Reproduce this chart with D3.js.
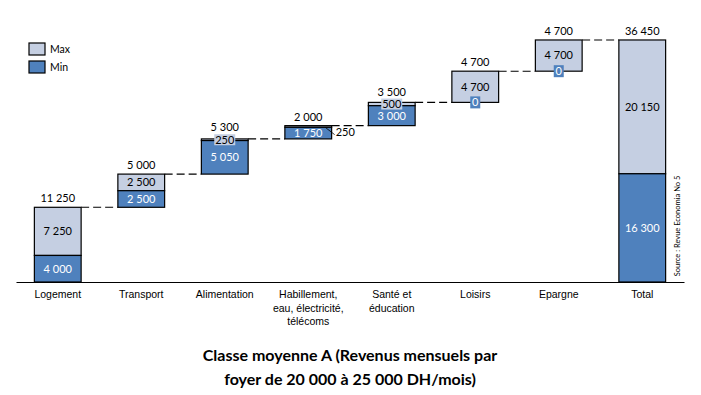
<!DOCTYPE html>
<html lang="fr">
<head>
<meta charset="UTF-8">
<title>Classe moyenne A</title>
<script src="https://d3js.org/d3.v7.min.js"></script>
<style>
    body{margin:0;background:#fff;}
    svg{font-family:Lato,"Open Sans",sans-serif;}
</style>
</head>
<body>
<svg id="chart" width="701" height="395"></svg>
<script>
    // données
    const categories = ['Logement','Transport','Alimentation','Habillement, eau, électricité, télécoms','Santé et éducation','Loisirs','Epargne','Total'];
    const catLines = [['Logement'],['Transport'],['Alimentation'],['Habillement,','eau, électricité,','télécoms'],['Santé et','éducation'],['Loisirs'],['Epargne'],['Total']];
    const minVals = [4000,2500,5050,1750,3000,0,0];
    const maxVals = [7250,2500,250,250,500,4700,4700];
    const seriesNames = ['Max','Min'];
    const titleLines = ['Classe moyenne A (Revenus mensuels par','foyer de 20 000 à 25 000 DH/mois)'];
    const sourceText = 'Source : Revue Economia No 5';

    const cMax = '#C5CFE2', cMin = '#4F81BD';
    const fmt = d3.formatLocale({thousands:'\u00a0',grouping:[3],decimal:',',currency:['','']}).format(',d');

    // construire les barres en cascade
    let base = 0;
    const rows = categories.slice(0,-1).map((c,i)=>{
        const r = {cat:c, base:base, min:minVals[i], max:maxVals[i]};
        base += minVals[i]+maxVals[i];
        return r;
    });
    rows.push({cat:'Total', base:0, min:d3.sum(minVals), max:d3.sum(maxVals), total:true});

    const svg = d3.select('#chart');
    const x = d3.scaleBand().domain(categories).range([16,684]).paddingInner(0.44).paddingOuter(0.22);
    const y = d3.scaleLinear().domain([0,40000]).range([282,16.4]);
    const bw = x.bandwidth();

    // connecteurs pointillés
    rows.slice(0,-1).forEach((d,i)=>{
        const top = d.base+d.min+d.max;
        svg.append('line')
            .attr('x1',x(d.cat)+bw).attr('x2',x(rows[i+1].cat))
            .attr('y1',y(top)).attr('y2',y(top))
            .attr('stroke','#000').attr('stroke-width',1.1)
            .attr('stroke-dasharray','8,4');
    });

    svg.selectAll('.bar').data(rows).join('g').attr('class','bar')
        .each(function(d){
            const cell = d3.select(this);
            const x0 = x(d.cat), cx = x0+bw/2;
            const yb = y(d.base), ym = y(d.base+d.min), yt = y(d.base+d.min+d.max);
            let topY = yt-5;

            cell.append('rect')
                .attr('x',x0).attr('width',bw)
                .attr('y',yt).attr('height',ym-yt)
                .attr('fill',cMax).attr('stroke','#000').attr('stroke-width',1.2);
            if(d.min>0){
                cell.append('rect')
                    .attr('x',x0).attr('width',bw)
                    .attr('y',ym).attr('height',yb-ym)
                    .attr('fill',cMin).attr('stroke','#000').attr('stroke-width',1.2);
            }

            // étiquette Min
            if(d.min>0){
                cell.append('text')
                    .attr('x',cx).attr('y',(ym+yb)/2)
                    .attr('dy','0.35em')
                    .attr('text-anchor','middle').attr('font-size',11).attr('fill','#fff')
                    .text(fmt(d.min));
            }else{
                cell.append('rect')
                    .attr('x',cx-5).attr('y',yb-6).attr('width',10).attr('height',12)
                    .attr('fill',cMin);
                cell.append('text')
                    .attr('x',cx).attr('y',yb).attr('dy','0.35em')
                    .attr('text-anchor','middle').attr('font-size',11).attr('fill','#fff')
                    .text(fmt(d.min));
            }

            // étiquette Max
            const hMax = ym-yt;
            if(hMax>14){
                cell.append('text')
                    .attr('x',cx).attr('y',(yt+ym)/2).attr('dy','0.35em')
                    .attr('text-anchor','middle').attr('font-size',11).attr('fill','#000')
                    .text(fmt(d.max));
            }else if(d.min<2000){
                // trop petit : étiquette à droite avec trait
                cell.append('line')
                    .attr('x1',x0+bw-6).attr('y1',yt+2)
                    .attr('x2',x0+bw+3).attr('y2',yt+9)
                    .attr('stroke','#000').attr('stroke-width',0.8);
                cell.append('text')
                    .attr('x',x0+bw+4).attr('y',yt+7).attr('dy','0.35em')
                    .attr('font-size',11).attr('fill','#000')
                    .text(fmt(d.max));
            }else{
                const tw = 21, my = (yt+ym)/2;
                cell.append('rect')
                    .attr('x',cx-tw/2).attr('y',my-5.5).attr('width',tw).attr('height',11)
                    .attr('fill',cMax);
                cell.append('text')
                    .attr('x',cx).attr('y',my).attr('dy','0.35em')
                    .attr('text-anchor','middle').attr('font-size',11).attr('fill','#000')
                    .text(fmt(d.max));
                topY = my-5.5-3;
            }

            // total au-dessus
            cell.append('text')
                .attr('x',cx).attr('y',topY)
                .attr('text-anchor','middle').attr('font-size',11)
                .text(fmt(d.min+d.max));
        });

    // axe
    const axis = svg.append('g')
        .attr('transform','translate(0,282)')
        .call(d3.axisBottom(x).tickSize(0).tickSizeOuter(0).tickFormat(''));
    axis.select('.domain').attr('stroke','#000').attr('stroke-width',1.2);
    axis.selectAll('.tick').each(function(d,i){
        const t = d3.select(this).append('text')
            .attr('fill','#000').attr('font-size',10.5).attr('text-anchor','middle')
            .attr('y',16);
        catLines[i].forEach((l,j)=>{
            t.append('tspan').attr('x',0).attr('dy',j?13.5:0).text(l);
        });
    });

    // légende
    const leg = svg.append('g').attr('transform','translate(29,43)');
    seriesNames.forEach((s,i)=>{
        leg.append('rect').attr('x',0).attr('y',i*18).attr('width',16).attr('height',12)
            .attr('fill',i?cMin:cMax).attr('stroke','#000').attr('stroke-width',1.2);
        leg.append('text').attr('x',21).attr('y',i*18+6).attr('dy','0.35em')
            .attr('font-size',10.5).text(s);
    });

    // source
    svg.append('text')
        .attr('transform','translate(680,226) rotate(-90)')
        .attr('text-anchor','middle').attr('font-size',7.5)
        .text(sourceText);

    // titre
    svg.append('text')
        .attr('x',350).attr('y',361)
        .attr('text-anchor','middle').attr('font-size',16).attr('font-weight','bold')
        .selectAll('tspan').data(titleLines).join('tspan')
        .attr('x',350).attr('dy',(d,i)=>i?24:0).text(d=>d);
</script>
</body>
</html>
